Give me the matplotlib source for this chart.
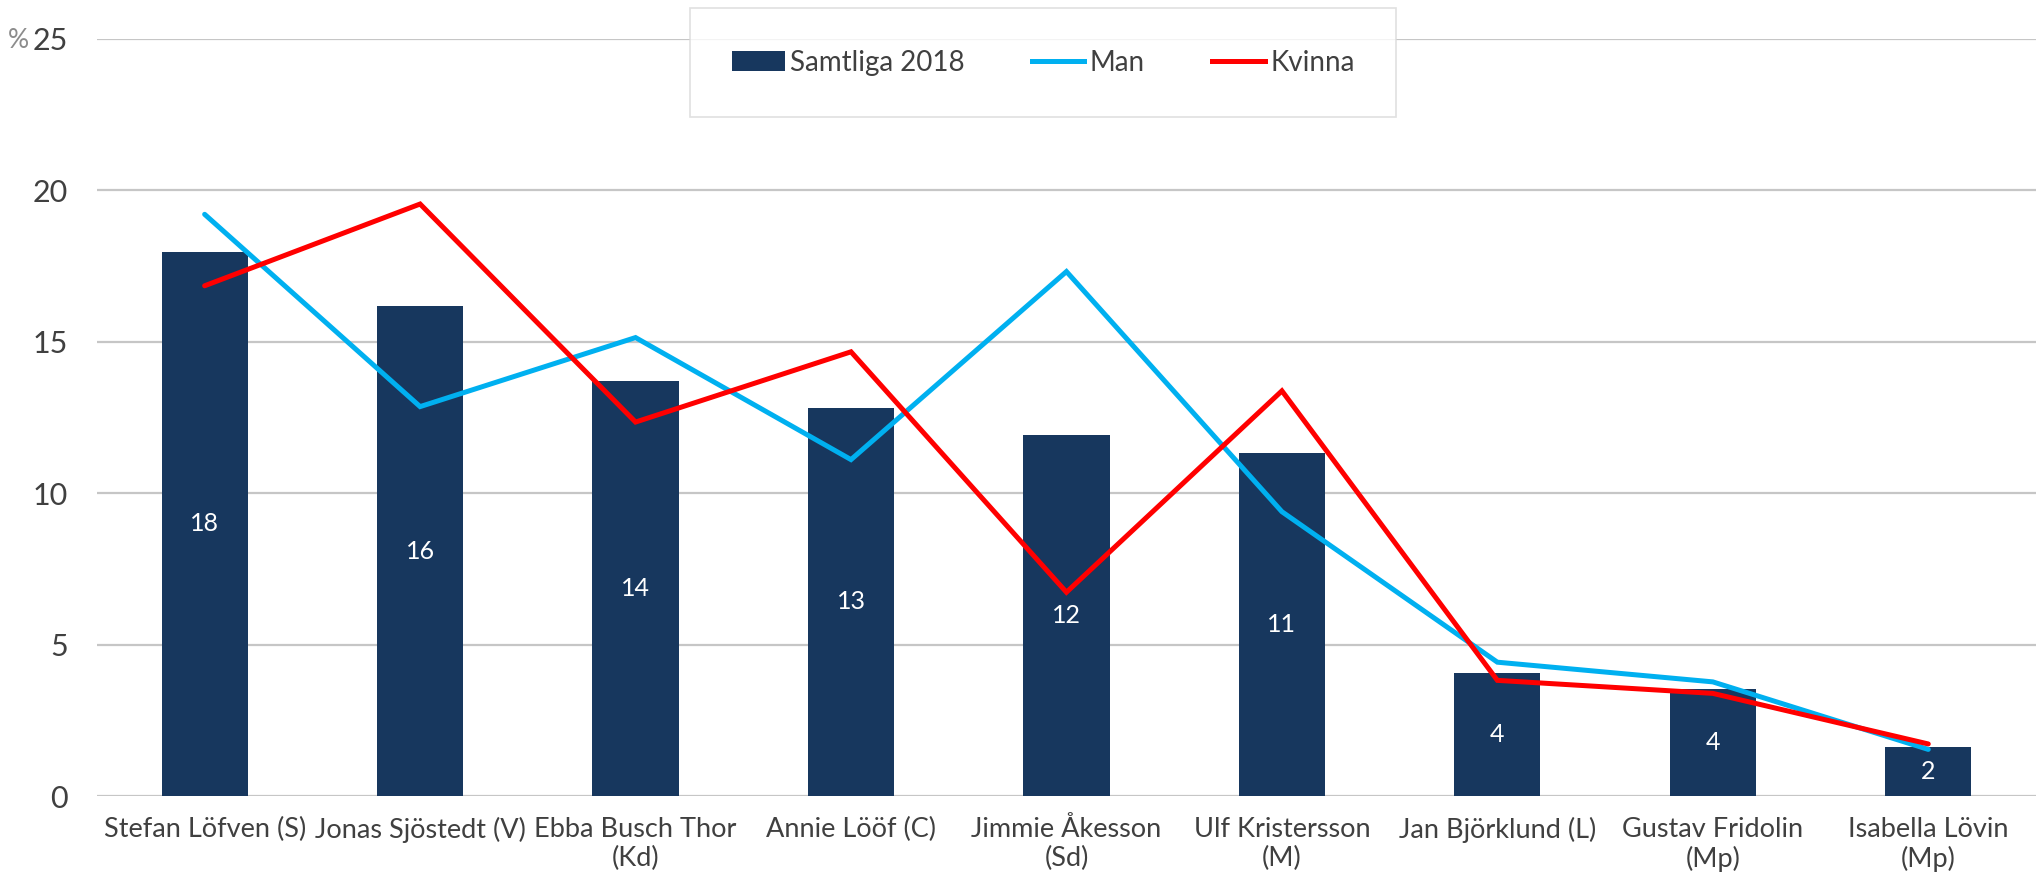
import matplotlib.pyplot as plt
import numpy as np
from matplotlib.patches import Patch
from matplotlib.lines import Line2D

plt.rcParams['font.family'] = ['Lato', 'DejaVu Sans']

# data
names = ["Stefan Löfven (S)", "Jonas Sjöstedt (V)", "Ebba Busch Thor\n(Kd)",
         "Annie Lööf (C)", "Jimmie Åkesson\n(Sd)", "Ulf Kristersson\n(M)",
         "Jan Björklund (L)", "Gustav Fridolin\n(Mp)", "Isabella Lövin\n(Mp)"]
samtliga = [17.97, 16.17, 13.72, 12.82, 11.92, 11.32, 4.07, 3.52, 1.63]
man = [19.21, 12.86, 15.14, 11.11, 17.32, 9.39, 4.42, 3.77, 1.54]
kvinna = [16.85, 19.55, 12.35, 14.67, 6.73, 13.38, 3.82, 3.39, 1.72]
yticks = [0, 5, 10, 15, 20, 25]

BAR = '#17375E'
MAN = '#00B0F0'
KV = '#FF0000'
TXT = '#404040'
GRID = '#C6C6C6'

fig = plt.figure(figsize=(20.36, 8.84), dpi=100)
ax = fig.add_axes([0.0476, 0.0995, 0.9524, 0.8564])

x = np.arange(len(names))
ax.set_axisbelow(True)
ax.yaxis.grid(True, color=GRID, linewidth=1.6)
ax.bar(x, samtliga, width=0.40, color=BAR, zorder=2)
ax.plot(x, man, color=MAN, linewidth=3.6, zorder=3, solid_capstyle='round', solid_joinstyle='miter')
ax.plot(x, kvinna, color=KV, linewidth=3.6, zorder=4, solid_capstyle='round', solid_joinstyle='miter')

for xi, v in zip(x, samtliga):
    ax.text(xi, v / 2, str(int(round(v))), ha='center', va='center',
            color='white', fontsize=18, zorder=5)

ax.set_xlim(-0.5, len(names) - 0.5)
ax.set_ylim(0, 25)
ax.set_yticks(yticks)
ax.set_yticklabels([str(t) for t in yticks])
ax.set_xticks(x)
ax.set_xticklabels(names, linespacing=1.2)
ax.tick_params(axis='y', length=0, pad=21, labelsize=22, labelcolor=TXT)
ax.tick_params(axis='x', length=0, pad=15, labelsize=19.5, labelcolor=TXT)
for s in ax.spines.values():
    s.set_visible(False)

# the gray % in front of the top tick
fig.text(29 / 2036, 1 - 40 / 884, '%', ha='right', va='center',
         fontsize=19, color='#8C8C8C')

handles = [Patch(facecolor=BAR), Line2D([], [], color=MAN, linewidth=3.6),
           Line2D([], [], color=KV, linewidth=3.6)]
leg = fig.legend(handles, ['Samtliga 2018', 'Man', 'Kvinna'], ncol=3,
                 loc='center', bbox_to_anchor=(0.5124, 0.929), frameon=True,
                 fancybox=False, fontsize=20, labelcolor=TXT, borderpad=1.5,
                 handlelength=1.9, handletextpad=0.2, columnspacing=2.4,
                 borderaxespad=0)
leg.get_frame().set_edgecolor('#D9D9D9')
leg.get_frame().set_linewidth(1.2)

fig.savefig('out.png', dpi=100)
